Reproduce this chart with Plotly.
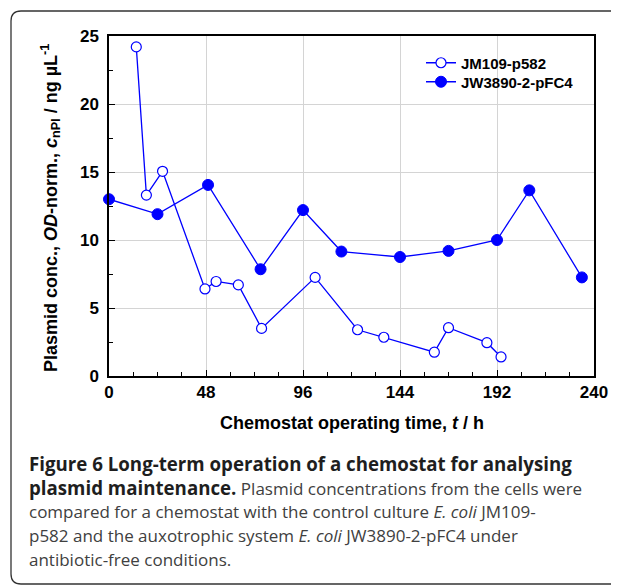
import plotly.graph_objects as go

# ---- data ----
jm_time = [13.5, 18.5, 26.5, 47.5, 53, 64, 75.5, 102, 123, 136, 161, 168, 187, 194]
jm_conc = [24.2, 13.3, 15.05, 6.4, 6.95, 6.7, 3.5, 7.25, 3.4, 2.85, 1.75, 3.55, 2.45, 1.4]
jw_time = [0, 24, 49, 75, 96, 115, 144, 168, 192, 208, 234]
jw_conc = [13.0, 11.9, 14.05, 7.85, 12.2, 9.15, 8.75, 9.2, 10.0, 13.65, 7.25]
x_ticks = [0, 48, 96, 144, 192, 240]
y_ticks = [0, 5, 10, 15, 20, 25]
series_names = ["JM109-p582", "JW3890-2-pFC4"]

# page geometry (the page body has an 8px margin, so the figure is offset)
W, H = 619, 586
OX, OY = 8, 8
L, R, T, B = 109, 594, 36, 376  # plot area in page pixels
PW, PH = R - L, B - T

def px(x):
    return (x - L) / PW

def py(y):
    return (B - y) / PH

BLUE = "#0000FF"
FONT = "Arial, Liberation Sans, sans-serif"

fig = go.Figure()
fig.add_trace(go.Scatter(
    x=jm_time, y=jm_conc, mode="lines+markers", name=series_names[0],
    line=dict(color=BLUE, width=1.3),
    marker=dict(symbol="circle", size=10, color="white", line=dict(color=BLUE, width=1.2)),
    cliponaxis=False, legend="legend",
))
fig.add_trace(go.Scatter(
    x=jw_time, y=jw_conc, mode="lines+markers", name=series_names[1],
    line=dict(color=BLUE, width=1.3),
    marker=dict(symbol="circle", size=11, color=BLUE, line=dict(color=BLUE, width=1)),
    cliponaxis=False, legend="legend2",
))

axis_common = dict(
    showline=True, linecolor="black", linewidth=1.5, mirror=True,
    showgrid=True, gridcolor="#d4d4d4", gridwidth=1,
    ticks="inside", ticklen=6, tickwidth=1.2, tickcolor="black",
    tickfont=dict(family=FONT, size=17, color="black", weight="bold"),
    zeroline=False,
)
fig.update_xaxes(range=[0, 240], tickvals=x_ticks, ticktext=[str(v) for v in x_ticks],
                 minor=dict(ticks="inside", dtick=12, tick0=0, ticklen=4, tickcolor="black", showgrid=False),
                 **axis_common)
fig.update_yaxes(range=[0, 25], tickvals=y_ticks, ticktext=[str(v) for v in y_ticks],
                 minor=dict(ticks="inside", dtick=2.5, tick0=0, ticklen=4, tickcolor="black", showgrid=False),
                 ticklabelstandoff=5,
                 **axis_common)

annotations = []
# axis titles
annotations.append(dict(
    text="Chemostat operating time, <i>t</i> / h", x=px(352), y=py(423),
    xref="paper", yref="paper", showarrow=False, xanchor="center", yanchor="middle",
    font=dict(family=FONT, size=18, color="black", weight="bold"),
))
annotations.append(dict(
    text="Plasmid conc., <i>OD</i>-norm., <i>c</i><sub>nPl</sub> / ng µL<sup>-1</sup>",
    x=px(50), y=py(208), textangle=-90,
    xref="paper", yref="paper", showarrow=False, xanchor="center", yanchor="middle",
    font=dict(family=FONT, size=18, color="black", weight="bold"),
))

# caption
CAP_FONT = "Open Sans, sans-serif"
BOLD_SPAN = '<span style="font-size:18.7px;color:#1e1e1e"><b>{}</b></span>'
cap_lines = [
    BOLD_SPAN.format("Figure 6 Long-term operation of a chemostat for analysing"),
    BOLD_SPAN.format("plasmid maintenance.") + " Plasmid concentrations from the cells were",
    "compared for a chemostat with the control culture <i>E. coli</i> JM109-",
    "p582 and the auxotrophic system <i>E. coli</i> JW3890-2-pFC4 under",
    "antibiotic-free conditions.",
]
for i, line in enumerate(cap_lines):
    annotations.append(dict(
        text=line, x=px(27), y=py(463 + 24 * i),
        xref="paper", yref="paper", showarrow=False, xanchor="left", yanchor="middle",
        align="left", font=dict(family=CAP_FONT, size=17, color="#404040"),
    ))

# rounded frame around the whole figure (right side runs off the page)
x0, y0, x1, y1, r = 11, 11, 640, 584, 10
path = (
    f"M {px(x0 + r)},{py(y0)} L {px(x1)},{py(y0)} L {px(x1)},{py(y1)} "
    f"L {px(x0 + r)},{py(y1)} Q {px(x0)},{py(y1)} {px(x0)},{py(y1 - r)} "
    f"L {px(x0)},{py(y0 + r)} Q {px(x0)},{py(y0)} {px(x0 + r)},{py(y0)} Z"
)
shapes = [dict(type="path", path=path, xref="paper", yref="paper",
               line=dict(color="#333333", width=1.3), fillcolor="rgba(0,0,0,0)", layer="below")]

legend_common = dict(xanchor="left", yanchor="middle",
                     bgcolor="rgba(255,255,255,0)", borderwidth=0,
                     font=dict(family=FONT, size=15, color="black", weight="bold"))

fig.update_layout(
    width=W - OX, height=H - OY,
    margin=dict(l=L - OX, r=W - R, t=T - OY, b=H - B, pad=0),
    paper_bgcolor="white", plot_bgcolor="white",
    showlegend=True,
    legend=dict(x=px(421), y=py(63), **legend_common),
    legend2=dict(x=px(421), y=py(82), **legend_common),
    annotations=annotations,
    shapes=shapes,
)

fig.write_html("out.html")
